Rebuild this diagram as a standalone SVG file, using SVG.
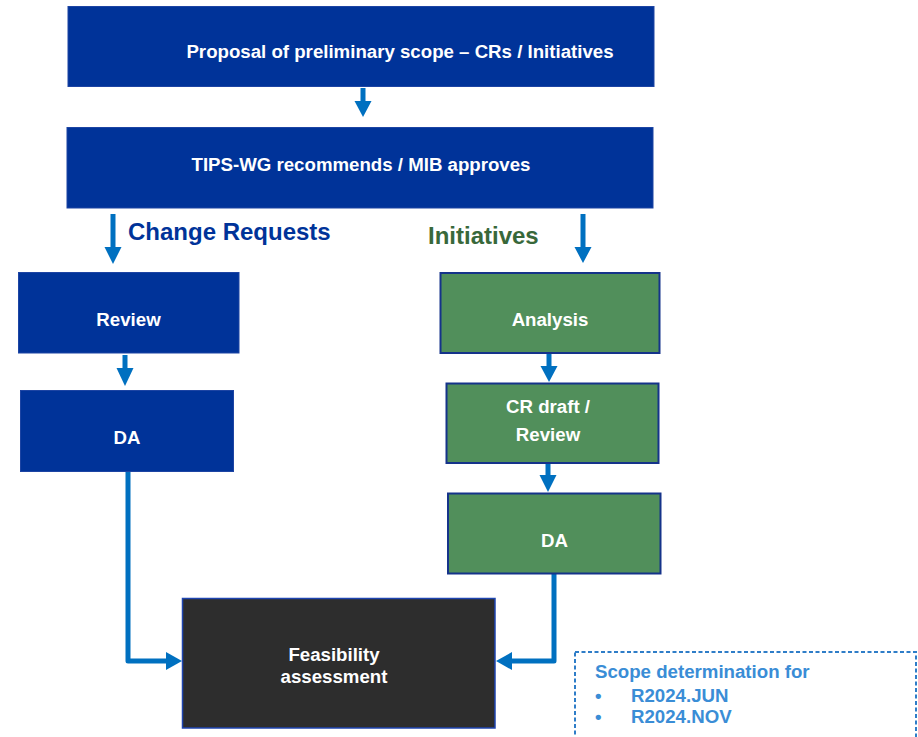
<svg xmlns="http://www.w3.org/2000/svg" width="918" height="737" viewBox="0 0 918 737">
<style>
.blue{fill:#003399;stroke:#1d44a3;stroke-width:1}
.green{fill:#518F5B;stroke:#15338a;stroke-width:2}
.dark{fill:#2D2D2D;stroke:#1f45b0;stroke-width:1.5}
.t{font-family:"Liberation Sans",Arial,sans-serif;font-weight:bold;font-size:18.67px;fill:#ffffff;text-anchor:middle}
.hd{font-family:"Liberation Sans",Arial,sans-serif;font-weight:bold;font-size:24px}
.sc{font-family:"Liberation Sans",Arial,sans-serif;font-weight:bold;font-size:18.67px;fill:#3A8DD6}
.ln{fill:none;stroke:#0070C0;stroke-width:5}
.ah{fill:#0070C0}
</style>
<rect width="918" height="737" fill="#ffffff"/>
<g id="connectors">
  <path class="ln" d="M363 88V103"/><path class="ah" d="M354.5 101H371.5L363 117Z"/>
  <path class="ln" d="M113 214V249"/><path class="ah" d="M104.5 247H121.5L113 264Z"/>
  <path class="ln" d="M583 214V249"/><path class="ah" d="M574.5 247H591.5L583 263Z"/>
  <path class="ln" d="M125 355V370"/><path class="ah" d="M116.5 368H133.5L125 386Z"/>
  <path class="ln" d="M549 353V368"/><path class="ah" d="M540.5 366H557.5L549 382Z"/>
  <path class="ln" d="M548 463V477"/><path class="ah" d="M539.5 475H556.5L548 492Z"/>
  <path class="ln" stroke-linejoin="round" d="M128 472V661H168"/><path class="ah" d="M166 652V670L182 661Z"/>
  <path class="ln" stroke-linejoin="round" d="M554 574V661H510"/><path class="ah" d="M512 652V670L496 661Z"/>
</g>
<g id="proposal"><rect class="blue" x="68" y="6.5" width="586" height="80"/><text class="t" x="400" y="58">Proposal of preliminary scope – CRs / Initiatives</text></g>
<g id="tips"><rect class="blue" x="67" y="127.5" width="586" height="80.5"/><text class="t" x="361" y="171">TIPS-WG recommends / MIB approves</text></g>
<g id="label-cr"><text class="hd" x="128" y="240" fill="#003399">Change Requests</text></g>
<g id="label-init"><text class="hd" x="428" y="244" fill="#38683A">Initiatives</text></g>
<g id="review"><rect class="blue" x="18.5" y="272.5" width="220.5" height="80.5"/><text class="t" x="128.5" y="326">Review</text></g>
<g id="da-cr"><rect class="blue" x="20.5" y="390.5" width="213" height="81"/><text class="t" x="127" y="444">DA</text></g>
<g id="analysis"><rect class="green" x="440.5" y="273" width="219" height="80"/><text class="t" x="550" y="326">Analysis</text></g>
<g id="crdraft"><rect class="green" x="446.5" y="383.5" width="212" height="79.5"/><text class="t" x="548" y="413">CR draft /</text><text class="t" x="548" y="441">Review</text></g>
<g id="da-init"><rect class="green" x="448" y="493.5" width="212.5" height="80"/><text class="t" x="554.5" y="547">DA</text></g>
<g id="feasibility"><rect class="dark" x="182.5" y="598.5" width="312.5" height="129.5"/><text class="t" x="334" y="661">Feasibility</text><text class="t" x="334" y="683">assessment</text></g>
<g id="scope">
  <rect x="575" y="652" width="341" height="100" fill="none" stroke="#2E7DC8" stroke-width="2" stroke-dasharray="4 2.5"/>
  <text class="sc" x="595" y="678">Scope determination for</text>
  <text class="sc" x="595" y="702">•</text><text class="sc" x="631" y="702">R2024.JUN</text>
  <text class="sc" x="595" y="723">•</text><text class="sc" x="631" y="723">R2024.NOV</text>
</g>
</svg>
